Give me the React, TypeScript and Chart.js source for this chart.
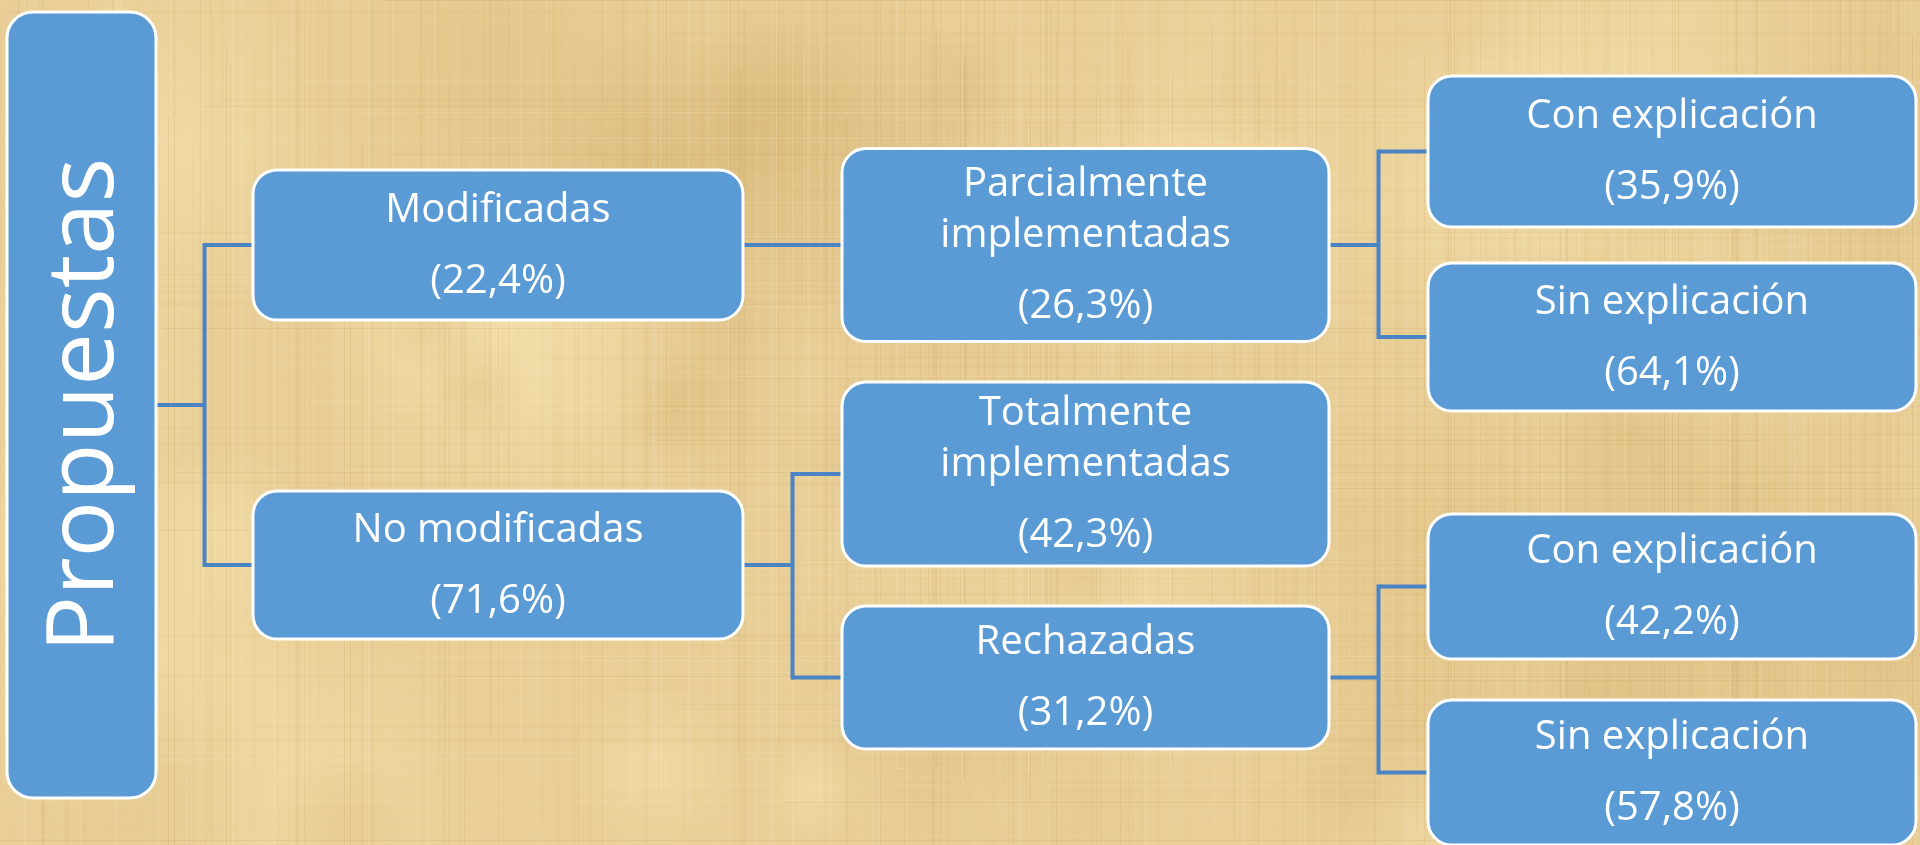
import React, { useEffect, useRef } from "react";
import { Chart, registerables } from "chart.js";

Chart.register(...registerables);

// ---------- data ----------
const nodeLabels: string[][] = [
  ["Propuestas"],
  ["Modificadas"],
  ["No modificadas"],
  ["Parcialmente", "implementadas"],
  ["Totalmente", "implementadas"],
  ["Rechazadas"],
  ["Con explicación"],
  ["Sin explicación"],
  ["Con explicación"],
  ["Sin explicación"],
];
const nodePercents: (number | null)[] = [null, 22.4, 71.6, 26.3, 42.3, 31.2, 35.9, 64.1, 42.2, 57.8];
const nodeParents: number[] = [-1, 0, 0, 1, 2, 2, 3, 3, 5, 5];
const nodeLevels: number[] = [0, 1, 1, 2, 2, 2, 3, 3, 3, 3];

// ---------- layout (chart units, 1 unit = 1px of the 1920x845 area) ----------
const levelCenterX = [81.5, 498, 1085.5, 1672];
const levelBoxWidth = [149, 490, 487, 488];
const nodeCenterY = [405, 245, 565, 245, 474, 677.5, 151.5, 337, 586.5, 772.5];
const nodeBoxHeight = [786, 150, 148, 193, 184, 143, 151, 148, 145, 145];

const BOX_FILL = "#5b9bd5";
const BOX_BORDER = "#ffffff";
const LINE_COLOR = "#4a84c4";
const FONT = "'Open Sans', 'Noto Sans', sans-serif";

const fmtPct = (v: number) => `(${v.toFixed(1).replace(".", ",")}%)`;

function hash(n: number) {
  const s = Math.sin(n * 12.9898 + 78.233) * 43758.5453;
  return s - Math.floor(s);
}

function roundRect(ctx: CanvasRenderingContext2D, x: number, y: number, w: number, h: number, r: number) {
  ctx.beginPath();
  ctx.moveTo(x + r, y);
  ctx.lineTo(x + w - r, y);
  ctx.arcTo(x + w, y, x + w, y + r, r);
  ctx.lineTo(x + w, y + h - r);
  ctx.arcTo(x + w, y + h, x + w - r, y + h, r);
  ctx.lineTo(x + r, y + h);
  ctx.arcTo(x, y + h, x, y + h - r, r);
  ctx.lineTo(x, y + r);
  ctx.arcTo(x, y, x + r, y, r);
  ctx.closePath();
}

const backgroundPlugin = {
  id: "papyrus",
  beforeDraw(chart: any) {
    const { ctx, width, height } = chart;
    ctx.save();
    ctx.fillStyle = "#e9cf97";
    ctx.fillRect(0, 0, width, height);
    // soft blotches
    for (let k = 0; k < 60; k++) {
      const x = hash(k + 1) * width;
      const y = hash(k + 301) * height;
      const r = 50 + hash(k + 601) * 170;
      const light = hash(k + 901) > 0.5;
      const g = ctx.createRadialGradient(x, y, 0, x, y, r);
      g.addColorStop(0, light ? "rgba(247,228,178,0.45)" : "rgba(205,168,100,0.22)");
      g.addColorStop(1, light ? "rgba(247,228,178,0)" : "rgba(205,168,100,0)");
      ctx.fillStyle = g;
      ctx.fillRect(x - r, y - r, 2 * r, 2 * r);
    }
    // vertical fibres
    for (let x = 0; x < width; x += 2) {
      const a = hash(x * 0.731 + 11);
      if (a > 0.5) {
        const dark = hash(x * 1.37 + 5) > 0.45;
        ctx.strokeStyle = dark
          ? `rgba(170,128,60,${((a - 0.5) * 0.3).toFixed(3)})`
          : `rgba(255,244,210,${((a - 0.5) * 0.4).toFixed(3)})`;
        ctx.lineWidth = 1 + (hash(x + 77) > 0.8 ? 1 : 0);
        const y0 = hash(x + 123) * height * 0.5;
        ctx.beginPath();
        ctx.moveTo(x + 0.5, y0 - height * 0.3);
        ctx.lineTo(x + 0.5, y0 + height * (0.4 + hash(x + 456) * 0.6));
        ctx.stroke();
      }
    }
    // horizontal fibres
    for (let y = 0; y < height; y += 2) {
      const a = hash(y * 0.913 + 37);
      if (a > 0.55) {
        const dark = hash(y * 2.11 + 9) > 0.5;
        ctx.strokeStyle = dark
          ? `rgba(175,135,65,${((a - 0.55) * 0.27).toFixed(3)})`
          : `rgba(255,244,210,${((a - 0.55) * 0.35).toFixed(3)})`;
        ctx.lineWidth = 1;
        const x0 = hash(y + 321) * width * 0.6;
        ctx.beginPath();
        ctx.moveTo(x0 - 200, y + 0.5);
        ctx.lineTo(x0 + width * (0.3 + hash(y + 654) * 0.7), y + 0.5);
        ctx.stroke();
      }
    }
    ctx.restore();
  },
};

const treePlugin = {
  id: "tree",
  afterDatasetsDraw(chart: any) {
    const { ctx } = chart;
    const sx = chart.scales.x;
    const sy = chart.scales.y;
    const pts = chart.getDatasetMeta(0).data;
    const boxes = pts.map((p: any, i: number) => {
      const lvl = nodeLevels[i];
      const cxv = levelCenterX[lvl];
      const cyv = nodeCenterY[i];
      const left = sx.getPixelForValue(cxv - levelBoxWidth[lvl] / 2);
      const right = sx.getPixelForValue(cxv + levelBoxWidth[lvl] / 2);
      const top = sy.getPixelForValue(cyv - nodeBoxHeight[i] / 2);
      const bottom = sy.getPixelForValue(cyv + nodeBoxHeight[i] / 2);
      return { cx: p.x, cy: p.y, left, right, top: Math.min(top, bottom), bottom: Math.max(top, bottom) };
    });

    ctx.save();
    // connectors
    ctx.strokeStyle = LINE_COLOR;
    ctx.lineWidth = 4;
    ctx.lineCap = "butt";
    const parents = Array.from(new Set(nodeParents.filter((p) => p >= 0)));
    parents.forEach((pi) => {
      const kids = nodeParents.map((p, i) => (p === pi ? i : -1)).filter((i) => i >= 0);
      const pb = boxes[pi];
      const firstKid = boxes[kids[0]];
      const midX = (pb.right + firstKid.left) / 2;
      if (kids.length === 1) {
        ctx.beginPath();
        ctx.moveTo(pb.right, pb.cy);
        ctx.lineTo(firstKid.left, pb.cy);
        ctx.stroke();
        return;
      }
      ctx.beginPath();
      ctx.moveTo(pb.right, pb.cy);
      ctx.lineTo(midX, pb.cy);
      ctx.stroke();
      const ys = kids.map((k) => boxes[k].cy).concat([pb.cy]);
      ctx.beginPath();
      ctx.moveTo(midX, Math.min(...ys) - 2);
      ctx.lineTo(midX, Math.max(...ys) + 2);
      ctx.stroke();
      kids.forEach((k) => {
        ctx.beginPath();
        ctx.moveTo(midX, boxes[k].cy);
        ctx.lineTo(boxes[k].left, boxes[k].cy);
        ctx.stroke();
      });
    });

    // boxes
    boxes.forEach((b: any, i: number) => {
      const r = i === 0 ? 26 : 24;
      roundRect(ctx, b.left, b.top, b.right - b.left, b.bottom - b.top, r);
      ctx.fillStyle = BOX_FILL;
      ctx.fill();
      ctx.lineWidth = 3;
      ctx.strokeStyle = BOX_BORDER;
      ctx.stroke();
    });

    // text
    ctx.fillStyle = "#ffffff";
    ctx.textAlign = "center";
    ctx.textBaseline = "alphabetic";
    boxes.forEach((b: any, i: number) => {
      if (nodeLevels[i] === 0) {
        ctx.save();
        ctx.translate(b.cx, b.cy);
        ctx.rotate(-Math.PI / 2);
        ctx.font = `94px ${FONT}`;
        ctx.fillText(nodeLabels[i][0], 0, 31);
        ctx.restore();
        return;
      }
      const lines = [...nodeLabels[i]];
      const pct = nodePercents[i];
      const baselines: number[] = [];
      lines.forEach((_, k) => baselines.push(k * 51));
      if (pct !== null) {
        lines.push(fmtPct(pct));
        baselines.push(baselines[baselines.length - 1] + 71);
      }
      const span = baselines[baselines.length - 1];
      const b0 = b.cy + 12 - span / 2;
      ctx.font = `40px ${FONT}`;
      lines.forEach((t, k) => ctx.fillText(t, b.cx, b0 + baselines[k]));
    });
    ctx.restore();
  },
};

export default function App() {
  const canvasRef = useRef<HTMLCanvasElement | null>(null);

  useEffect(() => {
    document.body.style.margin = "0";
    document.body.style.overflow = "hidden";
    const canvas = canvasRef.current;
    if (!canvas) return;
    const chart = new Chart(canvas, {
      type: "scatter",
      data: {
        datasets: [
          {
            data: nodeLevels.map((lvl, i) => ({ x: levelCenterX[lvl], y: nodeCenterY[i] })),
            pointRadius: 0,
            pointHoverRadius: 0,
            showLine: false,
          },
        ],
      },
      options: {
        animation: false,
        responsive: true,
        maintainAspectRatio: false,
        events: [],
        layout: { padding: 0 },
        scales: {
          x: { type: "linear", min: 0, max: 1920, display: false },
          y: { type: "linear", min: 0, max: 845, reverse: true, display: false },
        },
        plugins: {
          legend: { display: false },
          tooltip: { enabled: false },
        },
      },
      plugins: [backgroundPlugin, treePlugin],
    });
    return () => chart.destroy();
  }, []);

  return (
    <div style={{ position: "relative", width: "1920px", height: "845px" }}>
      <canvas ref={canvasRef} />
    </div>
  );
}
